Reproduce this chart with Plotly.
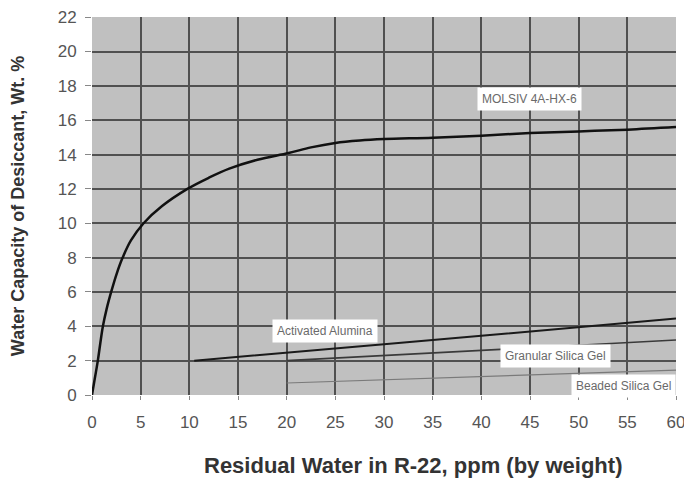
import plotly.graph_objects as go

# Data
molsiv_x = [0, 0.3, 0.6, 0.85, 1.12, 1.5, 1.97, 2.5, 3.15, 4.0, 5.3, 7.2, 9.8, 12.0, 14.1, 17.0,
            20.2, 22.5, 25, 27.5, 30, 35, 40, 45, 50, 55, 60]
molsiv_y = [0, 1.0, 2.0, 3.0, 4.0, 5.0, 6.0, 7.0, 8.0, 9.0, 10.0, 11.0, 12.0, 12.65, 13.18, 13.7,
            14.09, 14.42, 14.68, 14.82, 14.9, 14.98, 15.1, 15.25, 15.35, 15.45, 15.6]

alumina_x = [10.5, 20, 30, 40, 50, 60]
alumina_y = [2.0, 2.45, 2.95, 3.45, 3.95, 4.45]

granular_x = [20, 30, 40, 50, 60]
granular_y = [2.0, 2.3, 2.6, 2.9, 3.2]

beaded_x = [20, 30, 40, 50, 60]
beaded_y = [0.7, 0.88, 1.07, 1.26, 1.45]

label_names = ["MOLSIV 4A-HX-6", "Activated Alumina", "Granular Silica Gel", "Beaded Silica Gel"]
label_x = [44.9, 23.9, 47.6, 54.6]
label_y = [17.25, 3.7, 2.3, 0.55]

x_ticks = list(range(0, 61, 5))
y_ticks = list(range(0, 23, 2))

x_title = "Residual Water in R-22, ppm (by weight)"
y_title = "Water Capacity of Desiccant, Wt. %"

fig = go.Figure()
fig.add_trace(go.Scatter(x=molsiv_x, y=molsiv_y, mode="lines",
                         line=dict(color="#111111", width=2.5, shape="spline", smoothing=1.0),
                         showlegend=False, hoverinfo="skip"))
fig.add_trace(go.Scatter(x=alumina_x, y=alumina_y, mode="lines",
                         line=dict(color="#1a1a1a", width=2),
                         showlegend=False, hoverinfo="skip"))
fig.add_trace(go.Scatter(x=granular_x, y=granular_y, mode="lines",
                         line=dict(color="#3a3a3a", width=1.6),
                         showlegend=False, hoverinfo="skip"))
fig.add_trace(go.Scatter(x=beaded_x, y=beaded_y, mode="lines",
                         line=dict(color="#7a7a7a", width=1.2),
                         showlegend=False, hoverinfo="skip"))

for name, lx, ly in zip(label_names, label_x, label_y):
    fig.add_annotation(x=lx, y=ly, text=name, showarrow=False,
                       font=dict(family="Liberation Sans, Arial", size=12, color="#6a6a6a"),
                       bgcolor="#ffffff", borderpad=4)

# x-axis title (placed as annotation so it can sit right of centre like the original)
fig.add_annotation(xref="paper", yref="paper", x=0.55, y=0, yanchor="middle", yshift=-70,
                   text="<b>" + x_title + "</b>", showarrow=False,
                   font=dict(family="Liberation Sans, Arial", size=22, color="#333333"))

fig.update_layout(
    width=684, height=476,
    margin=dict(l=84, r=16, t=9, b=89, autoexpand=False),
    paper_bgcolor="#ffffff",
    plot_bgcolor="#c0c0c0",
    font=dict(family="Liberation Sans, Arial", color="#333333"),
    xaxis=dict(range=[0, 60], tickvals=x_ticks, showgrid=True, gridcolor="#505050", gridwidth=2,
               zeroline=False, ticks="outside", ticklen=4, tickcolor="#888888",
               ticklabelstandoff=8, ticklabeloverflow="allow", automargin=False,
               tickfont=dict(size=17, color="#555555"),
               showline=False),
    yaxis=dict(range=[0, 22.01], tickvals=y_ticks, showgrid=True, gridcolor="#505050", gridwidth=2,
               zeroline=False, ticks="outside", ticklen=6, tickcolor="#888888",
               ticklabelstandoff=5, ticklabeloverflow="allow", automargin=False,
               tickfont=dict(size=17, color="#555555"),
               title=dict(text="<b>" + y_title + "</b>",
                          font=dict(size=18, color="#333333"), standoff=28),
               showline=False),
)

fig.write_html("out.html")
